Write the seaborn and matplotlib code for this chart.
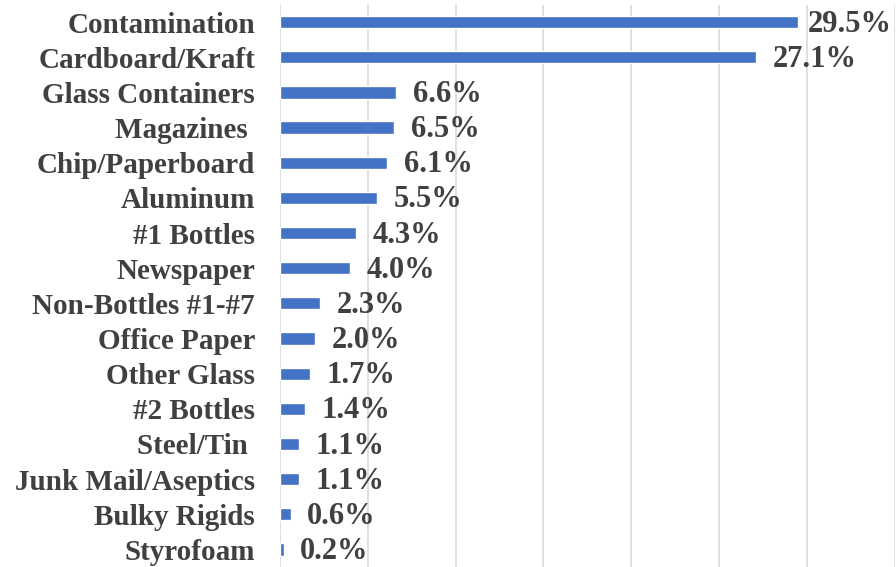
import pandas as pd
import matplotlib.pyplot as plt
import seaborn as sns

# 재료별 비율 (%)
materials = ["Contamination", "Cardboard/Kraft", "Glass Containers", "Magazines ",
             "Chip/Paperboard", "Aluminum", "#1 Bottles", "Newspaper",
             "Non-Bottles #1-#7", "Office Paper", "Other Glass", "#2 Bottles",
             "Steel/Tin ", "Junk Mail/Aseptics", "Bulky Rigids", "Styrofoam"]
shares = [29.5, 27.1, 6.6, 6.5, 6.1, 5.5, 4.3, 4.0, 2.3, 2.0, 1.7, 1.4, 1.1, 1.1, 0.6, 0.2]

df = pd.DataFrame({"material": materials, "share": shares})

sns.set_style("white")
plt.rcParams['font.family'] = ['Liberation Serif', 'DejaVu Serif']

fig = plt.figure(figsize=(8.96, 5.67), dpi=100)
ax = fig.add_axes([0.3125, 0.0, 0.686, 0.992])

sns.barplot(data=df, y="material", x="share", orient="h", color="#4472C4",
            saturation=1, width=0.35, ax=ax)

ax.set_xlim(0, 35)
ax.set_ylim(15.5, -0.5)
ax.set_xticks(range(0, 36, 5))
ax.xaxis.grid(True, color="#d9d9d9", linewidth=1.2)
ax.set_axisbelow(True)
ax.tick_params(axis="x", labelbottom=False, length=0)
ax.tick_params(axis="y", length=0, pad=18)
for lab in ax.get_yticklabels():
    lab.set_fontsize(21)
    lab.set_fontweight("bold")
    lab.set_color("#404040")
for s in ax.spines.values():
    s.set_visible(False)
ax.set_xlabel("")
ax.set_ylabel("")

# 값 라벨 (첫 번째는 오른쪽 끝에 붙도록 간격을 줄임)
for i, v in enumerate(shares):
    pad = 7 if i == 0 else 12
    ax.annotate(f"{v:.1f}%", xy=(v, i), xytext=(pad, -1.5), textcoords="offset points",
                ha="left", va="center", fontsize=22, fontweight="bold",
                color="#404040", annotation_clip=False)

fig.savefig("out.png", dpi=100)
